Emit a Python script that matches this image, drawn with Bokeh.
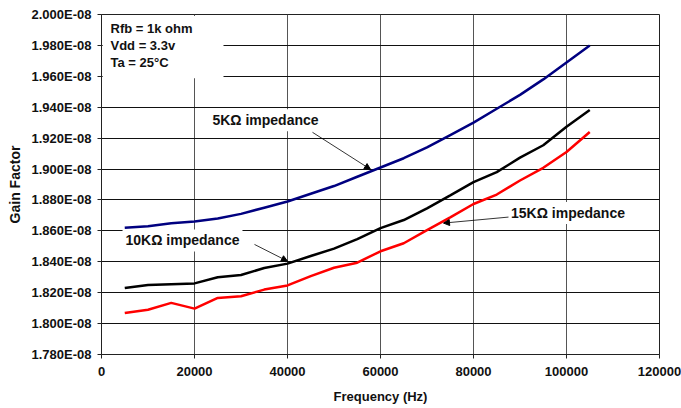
from bokeh.plotting import figure
from bokeh.models import (Range1d, FixedTicker, CustomJSTickFormatter, Label,
                          BoxAnnotation, Arrow, NormalHead, ColumnDataSource,
                          BasicTickFormatter)
from bokeh.embed import file_html
from bokeh.resources import INLINE

# ---- data ----
freq_hz = [5000, 10000, 15000, 20000, 25000, 30000, 35000, 40000, 45000, 50000,
           55000, 60000, 65000, 70000, 75000, 80000, 85000, 90000, 95000, 100000, 105000]

# gain factor values, in units of 1E-08
gain_5k_e8 = [1.862, 1.863, 1.865, 1.866, 1.868, 1.871, 1.875, 1.879, 1.884, 1.889,
              1.895, 1.901, 1.907, 1.914, 1.922, 1.930, 1.939, 1.948, 1.958, 1.969, 1.980]
gain_10k_e8 = [1.823, 1.825, 1.8255, 1.826, 1.830, 1.8314, 1.836, 1.8388, 1.8437, 1.8485,
               1.8546, 1.8618, 1.867, 1.8746, 1.883, 1.8915, 1.898, 1.9074, 1.9154, 1.9273, 1.9382]
gain_15k_e8 = [1.8068, 1.809, 1.8134, 1.8097, 1.8166, 1.8177, 1.822, 1.8247, 1.8307, 1.8361,
               1.8394, 1.8468, 1.852, 1.8605, 1.8687, 1.8774, 1.8835, 1.8926, 1.9008, 1.911, 1.924]

x_ticks = [0, 20000, 40000, 60000, 80000, 100000, 120000]
y_ticks = [1.78e-08, 1.80e-08, 1.82e-08, 1.84e-08, 1.86e-08, 1.88e-08, 1.90e-08,
           1.92e-08, 1.94e-08, 1.96e-08, 1.98e-08, 2.00e-08]

info_lines = ["Rfb = 1k ohm", "Vdd = 3.3v", "Ta = 25°C"]

E8 = 1e-08
src = ColumnDataSource(dict(
    f=freq_hz,
    g5=[v * E8 for v in gain_5k_e8],
    g10=[v * E8 for v in gain_10k_e8],
    g15=[v * E8 for v in gain_15k_e8],
))

FONT = "Liberation Sans"

p = figure(width=681, height=408, output_backend="svg", toolbar_location=None,
           x_range=Range1d(0, 120000), y_range=Range1d(1.78e-08, 2.0e-08),
           min_border_left=101, min_border_right=22, min_border_top=14, min_border_bottom=54)
p.background_fill_color = "white"
p.border_fill_color = "white"
p.outline_line_color = "#222222"
p.outline_line_width = 1

# grids
p.xgrid.grid_line_color = "#555555"
p.ygrid.grid_line_color = "#111111"
p.xgrid.grid_line_width = 1
p.ygrid.grid_line_width = 1

# axes
p.xaxis.ticker = FixedTicker(ticks=x_ticks)
p.xaxis.formatter = BasicTickFormatter(use_scientific=False)
p.yaxis.ticker = FixedTicker(ticks=y_ticks)
p.yaxis.formatter = CustomJSTickFormatter(code="""
    const s = tick.toExponential(3);
    const parts = s.split('e');
    const n = parseInt(parts[1]);
    const e = String(Math.abs(n)).padStart(2, '0');
    return parts[0] + 'E' + (n < 0 ? '-' : '+') + e;
""")
for ax in (p.xaxis[0], p.yaxis[0]):
    ax.axis_line_color = "#222222"
    ax.major_tick_line_color = "#222222"
    ax.major_tick_out = 4
    ax.major_tick_in = 0
    ax.minor_tick_line_color = None
    ax.major_label_text_font = FONT
    ax.major_label_text_font_style = "bold"
    ax.major_label_text_font_size = "13px"
    ax.major_label_text_color = "#111111"
    ax.axis_label_text_font = FONT
    ax.axis_label_text_font_style = "bold"
    ax.axis_label_text_color = "#111111"

p.xaxis.major_label_standoff = 8
p.yaxis.major_label_standoff = 6
p.xaxis.axis_label = "Frequency (Hz)"
p.yaxis.axis_label = "Gain Factor"
p.xaxis.axis_label_text_font_size = "13px"
p.yaxis.axis_label_text_font_size = "14px"
p.xaxis.axis_label_standoff = 10
p.yaxis.axis_label_standoff = 6

# series
p.line("f", "g5", source=src, line_color="#000080", line_width=2.5)
p.line("f", "g10", source=src, line_color="#000000", line_width=2.5)
p.line("f", "g15", source=src, line_color="#FF0000", line_width=2.5)

# info box (masks grid)
p.add_layout(BoxAnnotation(left=250, right=26237, top=1.9990e-08, bottom=1.9587e-08,
                           fill_color="white", fill_alpha=1.0, line_color=None,
                           level="underlay"))
info_y = [1.99113e-08, 1.98012e-08, 1.96911e-08]
for txt, yy in zip(info_lines, info_y):
    p.add_layout(Label(x=1935, y=yy, text=txt, text_font=FONT, text_font_style="bold",
                       text_font_size="13px", text_baseline="middle", text_align="left",
                       text_color="#111111"))

# impedance labels + arrows
labels = [
    ("5KΩ impedance", 35269, 1.93154e-08, (45376, 1.92376e-08), (57849, 1.89980e-08)),
    ("10KΩ impedance", 17419, 1.85381e-08, (32903, 1.85122e-08), (40000, 1.84041e-08)),
    ("15KΩ impedance", 100323, 1.87150e-08, (87527, 1.86891e-08), (73548, 1.86502e-08)),
]
for txt, lx, ly, a0, a1 in labels:
    p.add_layout(Label(x=lx, y=ly, text=txt, text_font=FONT, text_font_style="bold",
                       text_font_size="14px", text_baseline="middle", text_align="center",
                       text_color="#111111", background_fill_color="white",
                       background_fill_alpha=1.0, padding=3, level="underlay"))
    p.add_layout(Arrow(x_start=a0[0], y_start=a0[1], x_end=a1[0], y_end=a1[1],
                       line_color="black", line_width=0.8,
                       end=NormalHead(size=6, fill_color="black", line_color="black")))

open("out.html", "w").write(file_html(p, INLINE))
